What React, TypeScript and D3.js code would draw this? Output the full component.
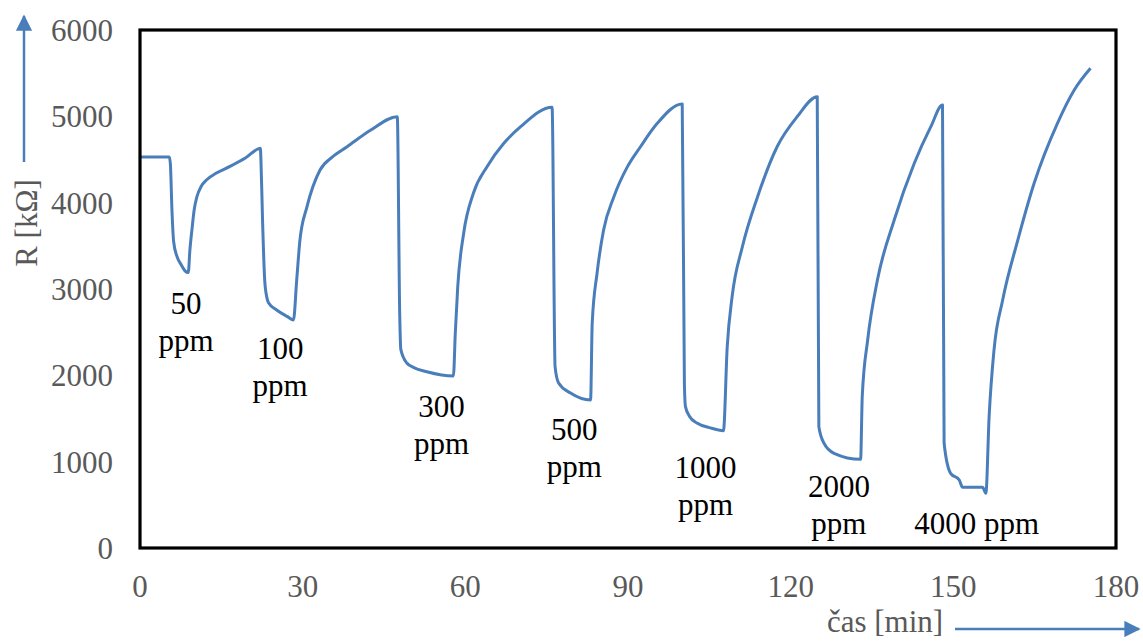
import React from "react";
import * as d3 from "d3";

const timeMin: number[] = [
  0, 5.4, 5.6, 5.9, 6.2, 6.8, 7.6, 8.3, 8.9, 9.2, 9.6, 10.0, 10.5, 11.3, 12.3, 14.0, 16.6, 19.5, 22.2,
  22.3, 22.6, 23.0, 23.4, 23.7, 25.2, 27.2, 28.3, 28.9, 29.5, 30.8, 33.2, 35.5, 38.2, 42.5, 47.45,
  47.9, 48.1, 49.2, 50.5, 52.9, 57.8, 58.15, 58.6, 59.7, 61.5, 64.0, 67.1, 70.2, 76.0,
  76.55, 77.2, 79.4, 83.1, 83.4, 84.3, 85.5, 87.4, 89.9, 92.3, 95.4, 100.0,
  100.4, 100.6, 101.3, 102.8, 105.0, 107.6, 108.3, 109.2, 111.1, 113.9, 117.5, 121.2, 124.9,
  125.2, 126.15, 128.0, 132.9, 133.2, 134.2, 136.0, 139.1, 142.8, 145.85, 148.0,
  148.3, 149.5, 151.1, 151.7, 155.4, 156.0, 156.6, 157.5, 159.1, 161.9, 164.9, 169.2, 172.3, 175.3,
];

const resistance: number[] = [
  4530, 4530, 4450, 3900, 3550, 3380, 3280, 3210, 3190, 3450, 3700, 3920, 4070, 4190, 4265, 4340, 4420, 4520, 4630,
  4500, 3800, 3100, 2900, 2840, 2757, 2680, 2641, 3104, 3568, 3953, 4378, 4530, 4648, 4838, 4995,
  2700, 2300, 2143, 2090, 2042, 1992, 2490, 3027, 3649, 4112, 4417, 4688, 4880, 5105,
  2100, 1911, 1795, 1714, 2606, 3185, 3683, 4069, 4417, 4648, 4919, 5143,
  1900, 1637, 1530, 1444, 1395, 1359, 2332, 2911, 3490, 4069, 4648, 4996, 5228,
  1405, 1213, 1097, 1027, 1753, 2409, 3104, 3799, 4456, 4880, 5131,
  1213, 865, 788, 703, 703, 634, 1521, 2293, 2873, 3568, 4224, 4919, 5305, 5556,
];

const xTicks: number[] = [0, 30, 60, 90, 120, 150, 180];
const yTicks: number[] = [0, 1000, 2000, 3000, 4000, 5000, 6000];

const labelLines: string[][] = [
  ["50", "ppm"],
  ["100", "ppm"],
  ["300", "ppm"],
  ["500", "ppm"],
  ["1000", "ppm"],
  ["2000", "ppm"],
  ["4000 ppm"],
];
// label anchor (time, resistance) for first-line baseline
const labelT: number[] = [8.5, 25.85, 55.6, 80.1, 104.3, 128.9, 154.3];
const labelR: number[] = [2710, 2189, 1517, 1251, 811, 591, 162];

const W = 1143;
const H = 644;
const L = 140, R = 1116, T = 30, B = 548;

export default function App() {
  const x = d3.scaleLinear().domain([0, 180]).range([L, R]);
  const y = d3.scaleLinear().domain([0, 6000]).range([B, T]);
  const pts = timeMin.map((t, i) => [t, resistance[i]] as [number, number]);
  const line = d3
    .line<[number, number]>()
    .x((d) => x(d[0]))
    .y((d) => y(d[1]))
    .curve(d3.curveMonotoneX);
  const font = "'Liberation Serif', 'Times New Roman', serif";
  const grey = "#595959";
  const blue = "#4a7ebb";
  const fs = 31;
  return (
    <svg
      width={W}
      height={H}
      style={{ position: "absolute", left: 0, top: 0, background: "#fff" }}
      fontFamily={font}
    >
      <defs>
        <marker id="arr" viewBox="0 0 10 10" refX="9" refY="5" markerWidth="6.5" markerHeight="6.5" orient="auto" markerUnits="strokeWidth">
          <path d="M0,0 L10,5 L0,10 z" fill={blue} />
        </marker>
      </defs>
      <rect x={0} y={0} width={W} height={H} fill="#fff" />
      <path d={line(pts) || ""} fill="none" stroke={blue} strokeWidth={3} strokeLinejoin="round" />
      <rect x={L} y={T} width={R - L} height={B - T} fill="none" stroke="#000" strokeWidth={3.2} />
      {yTicks.map((v) => (
        <text key={"y" + v} x={113} y={y(v) + 11} textAnchor="end" fontSize={fs} fill={grey} fontFamily={font}>
          {v}
        </text>
      ))}
      {xTicks.map((v) => (
        <text key={"x" + v} x={x(v)} y={597} textAnchor="middle" fontSize={fs} fill={grey} fontFamily={font}>
          {v}
        </text>
      ))}
      {labelLines.map((lines, i) => (
        <text key={"l" + i} x={x(labelT[i])} y={y(labelR[i])} textAnchor="middle" fontSize={fs} fill="#000" fontFamily={font}>
          {lines.map((s, j) => (
            <tspan key={j} x={x(labelT[i])} dy={j === 0 ? 0 : 37} fontFamily={font}>
              {s}
            </tspan>
          ))}
        </text>
      ))}
      <text transform="translate(37,223) rotate(-90)" textAnchor="middle" fontSize={fs} fill={grey} fontFamily={font}>
        R [kΩ]
      </text>
      <line x1={24} y1={162} x2={24} y2={16} stroke={blue} strokeWidth={2.5} markerEnd="url(#arr)" />
      <text x={885} y={632} textAnchor="middle" fontSize={fs} fill={grey} fontFamily={font}>
        čas [min]
      </text>
      <line x1={955} y1={629} x2={1139} y2={629} stroke={blue} strokeWidth={2.5} markerEnd="url(#arr)" />
    </svg>
  );
}
